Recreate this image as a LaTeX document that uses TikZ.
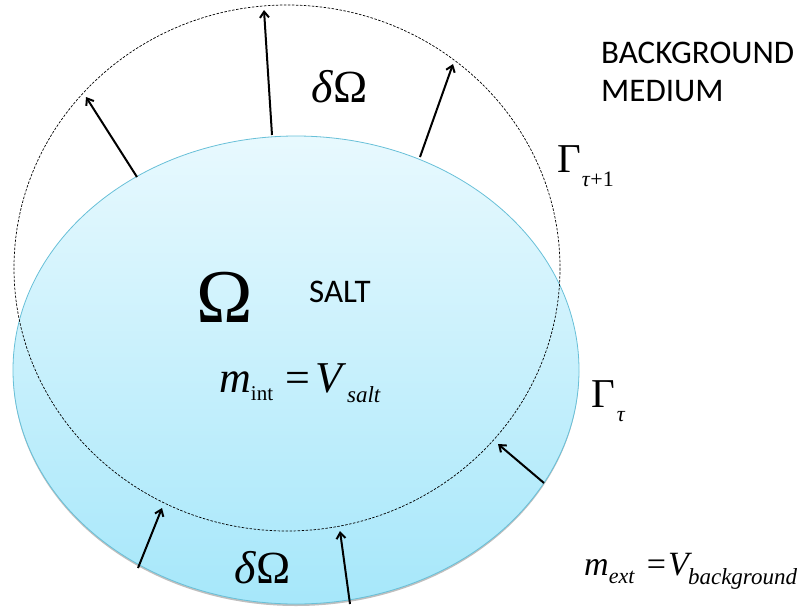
\documentclass[tikz,border=0pt]{standalone}
\usepackage{fontspec}
\setmainfont{Liberation Serif}
\newfontfamily\calibrifont{Carlito}
\usepackage{tikz}
\usetikzlibrary{arrows.meta,positioning}
\definecolor{saltTop}{RGB}{232,249,254}
\definecolor{saltBottom}{RGB}{166,231,250}
\definecolor{saltEdge}{RGB}{104,192,216}
\newcommand{\subtext}[3]{\raisebox{#1}{\fontsize{#2}{#2}\selectfont #3}}

\begin{document}
\begin{tikzpicture}[x=1pt, y=-1pt,
    sans_label/.style={font=\calibrifont\fontsize{33}{38}\selectfont, inner sep=0pt, align=left},
    serif_label/.style={inner sep=0pt},
    flow_arrow/.style={line width=2pt, -{Straight Barb[length=6pt, width=9pt]}}
]
\useasboundingbox (0,0) rectangle (804,606);

% salt body at step tau
\fill[black!25] (296,372) ellipse [x radius=283, y radius=234];
\draw[saltEdge, line width=0.8pt, top color=saltTop, bottom color=saltBottom] (296,370) ellipse [x radius=283, y radius=234];

% boundary at step tau+1
\draw[line width=0.7pt, dash pattern=on 2.5pt off 1.5pt] (287,268) ellipse [x radius=273, y radius=263];

% growth and shrink arrows
\coordinate (grow_a) at (137,177);
\coordinate (grow_a_tip) at (86,97);
\coordinate (grow_b) at (272,135);
\coordinate (grow_b_tip) at (264,10);
\coordinate (grow_c) at (420,157);
\coordinate (grow_c_tip) at (453,64);
\coordinate (shrink_a) at (544,483);
\coordinate (shrink_a_tip) at (498,444);
\coordinate (shrink_b) at (138,568);
\coordinate (shrink_b_tip) at (162,508);
\coordinate (shrink_c) at (350,604);
\coordinate (shrink_c_tip) at (340,531);

\draw[flow_arrow] (grow_a) -- (grow_a_tip);
\draw[flow_arrow] (grow_b) -- (grow_b_tip);
\draw[flow_arrow] (grow_c) -- (grow_c_tip);
\draw[flow_arrow] (shrink_a) -- (shrink_a_tip);
\draw[flow_arrow] (shrink_b) -- (shrink_b_tip);
\draw[flow_arrow] (shrink_c) -- (shrink_c_tip);

% labels
\node[sans_label, anchor=base west] (medium) at (601,101) {BACKGROUND\\MEDIUM};
\node[sans_label, anchor=base west] (salt) at (309,302) {SALT};
\node[serif_label, anchor=base west, font=\fontsize{76}{76}\selectfont] (omega) at (196,322) {Ω};
\node[serif_label, anchor=base, font=\fontsize{46}{46}\selectfont] (dom_top) at (340,102) {\textit{δ}Ω};
\node[serif_label, anchor=base, font=\fontsize{46}{46}\selectfont] (dom_bot) at (263,583) {\textit{δ}Ω};
\node[serif_label, anchor=base west, font=\fontsize{44}{44}\selectfont] (m_int) at (219,392)
    {\textit{m}\subtext{-8pt}{21}{int}\hspace{12pt}=\hspace{6pt}\textit{V}\subtext{-10pt}{23}{\textit{salt}}};
\node[serif_label, anchor=base west, font=\fontsize{34}{34}\selectfont] (m_ext) at (584,575)
    {\textit{m}\subtext{-8pt}{22}{\textit{ext}}\hspace{12pt}=\hspace{2pt}\textit{V}\hspace{-4pt}\subtext{-9pt}{23}{\textit{background}}};
\node[serif_label, anchor=base west, font=\fontsize{41}{41}\selectfont] (gamma_next) at (557,172)
    {Γ\hspace{1pt}\subtext{-14pt}{22}{\textit{τ}+1}};
\node[serif_label, anchor=base west, font=\fontsize{41}{41}\selectfont] (gamma_now) at (591,407)
    {Γ\hspace{2pt}\subtext{-14pt}{22}{\textit{τ}}};

\end{tikzpicture}
\end{document}
